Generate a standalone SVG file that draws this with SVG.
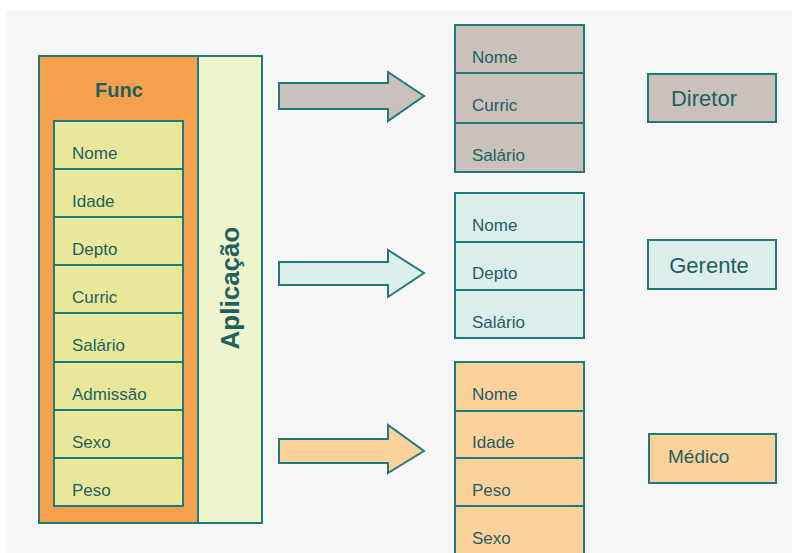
<svg xmlns="http://www.w3.org/2000/svg" width="792" height="553" viewBox="0 0 792 553">
<style>
.s{stroke:#1F7A7A;stroke-width:2}
.t{font-family:"Liberation Sans",Arial,sans-serif;font-size:17px;fill:#1F6060}
.big{font-family:"Liberation Sans",Arial,sans-serif;fill:#1F6060}
.gray{fill:#C9C1BA}
.cyan{fill:#DCEEEC}
.peach{fill:#FCD29C}
</style>
<rect x="0" y="0" width="792" height="553" fill="#FFFFFF"/>
<rect x="6" y="10" width="786" height="543" fill="#F7F7F7"/>

<g id="func">
  <rect x="39" y="56" width="159" height="467" fill="#F5A04C" class="s"/>
  <text x="119" y="97" text-anchor="middle" class="big" font-size="20" font-weight="bold" fill="#1E5252">Func</text>
  <g id="func-attrs">
    <rect x="54" y="121" width="129" height="385" fill="#E9E89A" class="s"/>
    <line x1="54" y1="169" x2="183" y2="169" class="s"/>
    <line x1="54" y1="217" x2="183" y2="217" class="s"/>
    <line x1="54" y1="265" x2="183" y2="265" class="s"/>
    <line x1="54" y1="313" x2="183" y2="313" class="s"/>
    <line x1="54" y1="362" x2="183" y2="362" class="s"/>
    <line x1="54" y1="410" x2="183" y2="410" class="s"/>
    <line x1="54" y1="458" x2="183" y2="458" class="s"/>
    <text x="72" y="159" class="t">Nome</text>
    <text x="72" y="207" class="t">Idade</text>
    <text x="72" y="255" class="t">Depto</text>
    <text x="72" y="303" class="t">Curric</text>
    <text x="72" y="351" class="t">Salário</text>
    <text x="72" y="400" class="t">Admissão</text>
    <text x="72" y="448" class="t">Sexo</text>
    <text x="72" y="496" class="t">Peso</text>
  </g>
</g>

<g id="aplicacao">
  <rect x="198" y="56" width="64" height="467" fill="#EEF4CC" class="s"/>
  <text transform="translate(239,288) rotate(-90)" text-anchor="middle" class="big" font-size="26" font-weight="bold" fill="#1E5252">Aplicação</text>
</g>

<g id="connectors">
  <polygon points="279,83 388,83 388,72 424,96 388,121 388,109 279,109" class="s gray"/>
  <polygon points="279,262 388,262 388,250 424,273 388,297 388,285 279,285" class="s cyan"/>
  <polygon points="279,439 388,439 388,425 424,451 388,473 388,463 279,463" class="s peach"/>
</g>

<g id="tabela-diretor">
  <rect x="455" y="25" width="129" height="147" class="s gray"/>
  <line x1="455" y1="73" x2="584" y2="73" class="s"/>
  <line x1="455" y1="123" x2="584" y2="123" class="s"/>
  <text x="472" y="63" class="t">Nome</text>
  <text x="472" y="111" class="t">Curric</text>
  <text x="472" y="161" class="t">Salário</text>
</g>

<g id="tabela-gerente">
  <rect x="455" y="193" width="129" height="145" class="s cyan"/>
  <line x1="455" y1="242" x2="584" y2="242" class="s"/>
  <line x1="455" y1="290" x2="584" y2="290" class="s"/>
  <text x="472" y="231" class="t">Nome</text>
  <text x="472" y="279" class="t">Depto</text>
  <text x="472" y="328" class="t">Salário</text>
</g>

<g id="tabela-medico">
  <rect x="455" y="362" width="129" height="196" class="s peach"/>
  <line x1="455" y1="411" x2="584" y2="411" class="s"/>
  <line x1="455" y1="458" x2="584" y2="458" class="s"/>
  <line x1="455" y1="506" x2="584" y2="506" class="s"/>
  <text x="472" y="400" class="t">Nome</text>
  <text x="472" y="448" class="t">Idade</text>
  <text x="472" y="496" class="t">Peso</text>
  <text x="472" y="544" class="t">Sexo</text>
</g>

<g id="diretor">
  <rect x="648" y="74" width="128" height="48" class="s gray"/>
  <text x="704" y="106" text-anchor="middle" class="big" font-size="22">Diretor</text>
</g>

<g id="gerente">
  <rect x="648" y="240" width="128" height="49" class="s cyan"/>
  <text x="709" y="273" text-anchor="middle" class="big" font-size="22">Gerente</text>
</g>

<g id="medico">
  <rect x="649" y="434" width="127" height="49" class="s peach"/>
  <text x="668" y="463" class="big" font-size="19">Médico</text>
</g>
</svg>
